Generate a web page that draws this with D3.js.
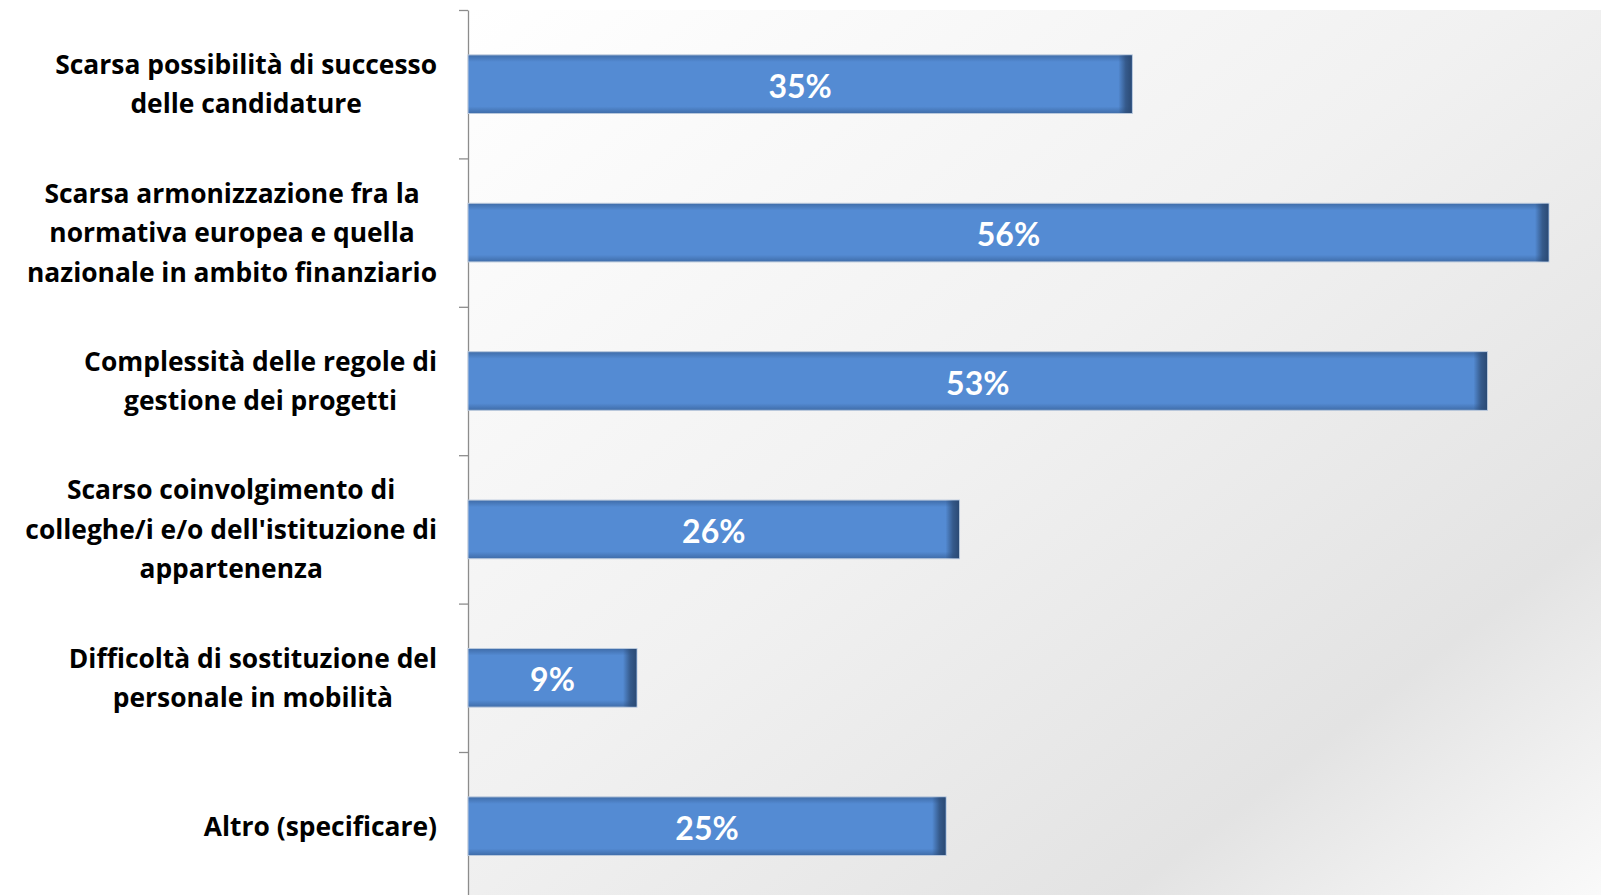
<!DOCTYPE html>
<html>
<head>
<meta charset="utf-8">
<script src="https://cdn.jsdelivr.net/npm/d3@7"></script>
<style>
  html, body { margin: 0; padding: 0; background: #ffffff; overflow: hidden; }
  svg { display: block; }
</style>
</head>
<body>
<svg id="chart" width="1601" height="895"></svg>
<script>
// ---- data ----
const categories = [
  "Scarsa possibilità di successo\ndelle candidature",
  "Scarsa armonizzazione fra la\nnormativa europea e quella\nnazionale in ambito finanziario",
  "Complessità delle regole di\ngestione dei progetti",
  "Scarso coinvolgimento di\ncolleghe/i e/o dell'istituzione di\nappartenenza",
  "Difficoltà di sostituzione del\npersonale in mobilità",
  "Altro (specificare)"
];
const values = [0.346, 0.563, 0.531, 0.256, 0.088, 0.249];
const xDomain = [0, 0.6];

// ---- layout ----
const axisX = 468, plotTop = 10, step = 148.4;
const plotBottom = plotTop + step * categories.length;
const xRight = axisX + 1920 * xDomain[1];

const svg = d3.select("#chart");
const defs = svg.append("defs");

// background gradient of plot area
const bg = defs.append("linearGradient").attr("id", "bgGrad")
  .attr("x1", 0).attr("y1", 0).attr("x2", 1).attr("y2", 1);
bg.append("stop").attr("offset", "0").attr("stop-color", "#ffffff");
bg.append("stop").attr("offset", "0.45").attr("stop-color", "#f1f1f1");
bg.append("stop").attr("offset", "0.78").attr("stop-color", "#e3e3e3");
bg.append("stop").attr("offset", "1").attr("stop-color", "#fbfbfb");

// bar body gradient (vertical edges darker)
const bv = defs.append("linearGradient").attr("id", "barV")
  .attr("x1", 0).attr("y1", 0).attr("x2", 0).attr("y2", 1);
bv.append("stop").attr("offset", "0").attr("stop-color", "#3f6ca8");
bv.append("stop").attr("offset", "0.12").attr("stop-color", "#548bd3");
bv.append("stop").attr("offset", "0.88").attr("stop-color", "#548bd3");
bv.append("stop").attr("offset", "1").attr("stop-color", "#3f6ca8");

// bar right-end shadow
const bh = defs.append("linearGradient").attr("id", "barEnd")
  .attr("x1", 0).attr("y1", 0).attr("x2", 1).attr("y2", 0);
bh.append("stop").attr("offset", "0").attr("stop-color", "#2b4a74").attr("stop-opacity", 0);
bh.append("stop").attr("offset", "0.55").attr("stop-color", "#2b4a74").attr("stop-opacity", 0.75);
bh.append("stop").attr("offset", "1").attr("stop-color", "#2b4a74").attr("stop-opacity", 1);

svg.append("rect")
  .attr("x", axisX).attr("y", plotTop)
  .attr("width", xRight - axisX).attr("height", plotBottom - plotTop + 5)
  .attr("fill", "url(#bgGrad)");

// ---- scales ----
const x = d3.scaleLinear().domain(xDomain).range([axisX, xRight]);
const y = d3.scaleBand().domain(categories).range([plotTop, plotBottom])
  .paddingInner(0.605).paddingOuter(0.3025);

// ---- axis (category boundaries) ----
const yTicks = d3.scaleLinear().domain([0, categories.length]).range([plotTop, plotBottom]);
const axisG = svg.append("g").attr("transform", `translate(${axisX},0)`)
  .call(d3.axisLeft(yTicks).tickValues(d3.range(categories.length + 1))
    .tickSize(9).tickSizeOuter(0).tickFormat(""));
axisG.selectAll("path, line").attr("stroke", "#8c8c8c").attr("stroke-width", 1.3);

// ---- bars ----
const bars = svg.append("g").selectAll("g.bar").data(categories).join("g").attr("class", "bar");
bars.append("rect")
  .attr("x", x(0))
  .attr("y", d => y(d))
  .attr("width", (d, i) => x(values[i]) - x(0))
  .attr("height", y.bandwidth())
  .attr("fill", "url(#barV)")
  .attr("stroke", "#b9c8dc").attr("stroke-width", 1);
bars.append("rect")
  .attr("x", (d, i) => x(values[i]) - 14)
  .attr("y", d => y(d) + 0.5)
  .attr("width", 13.5)
  .attr("height", y.bandwidth() - 1)
  .attr("fill", "url(#barEnd)");

// ---- value labels ----
const fmt = d3.format(".0%");
svg.append("g").selectAll("text").data(categories).join("text")
  .attr("x", (d, i) => (x(0) + x(values[i])) / 2)
  .attr("y", d => y(d) + y.bandwidth() / 2 + 2)
  .attr("dy", "0.36em")
  .attr("text-anchor", "middle")
  .attr("font-family", "Lato, 'Open Sans', sans-serif")
  .attr("font-weight", 700)
  .attr("font-size", 32)
  .attr("fill", "#ffffff")
  .text((d, i) => fmt(values[i]));

// ---- category labels (centered lines, block right-aligned) ----
const labelRight = 437, lineH = 39.5;
const lg = svg.append("g");
categories.forEach(cat => {
  const lines = cat.split("\n");
  const g = lg.append("g");
  const cy = y(cat) + y.bandwidth() / 2;
  const texts = g.selectAll("text").data(lines).join("text")
    .attr("y", (l, j) => cy + (j - (lines.length - 1) / 2) * lineH)
    .attr("dy", "0.36em")
    .attr("text-anchor", "middle")
    .attr("font-family", "'Open Sans', Lato, sans-serif")
    .attr("font-weight", 700)
    .attr("font-size", 26.4)
    .attr("fill", "#000000")
    .text(l => l);
  let maxW = 0;
  texts.each(function () { maxW = Math.max(maxW, this.getComputedTextLength()); });
  texts.attr("x", labelRight - maxW / 2);
});
</script>
</body>
</html>
